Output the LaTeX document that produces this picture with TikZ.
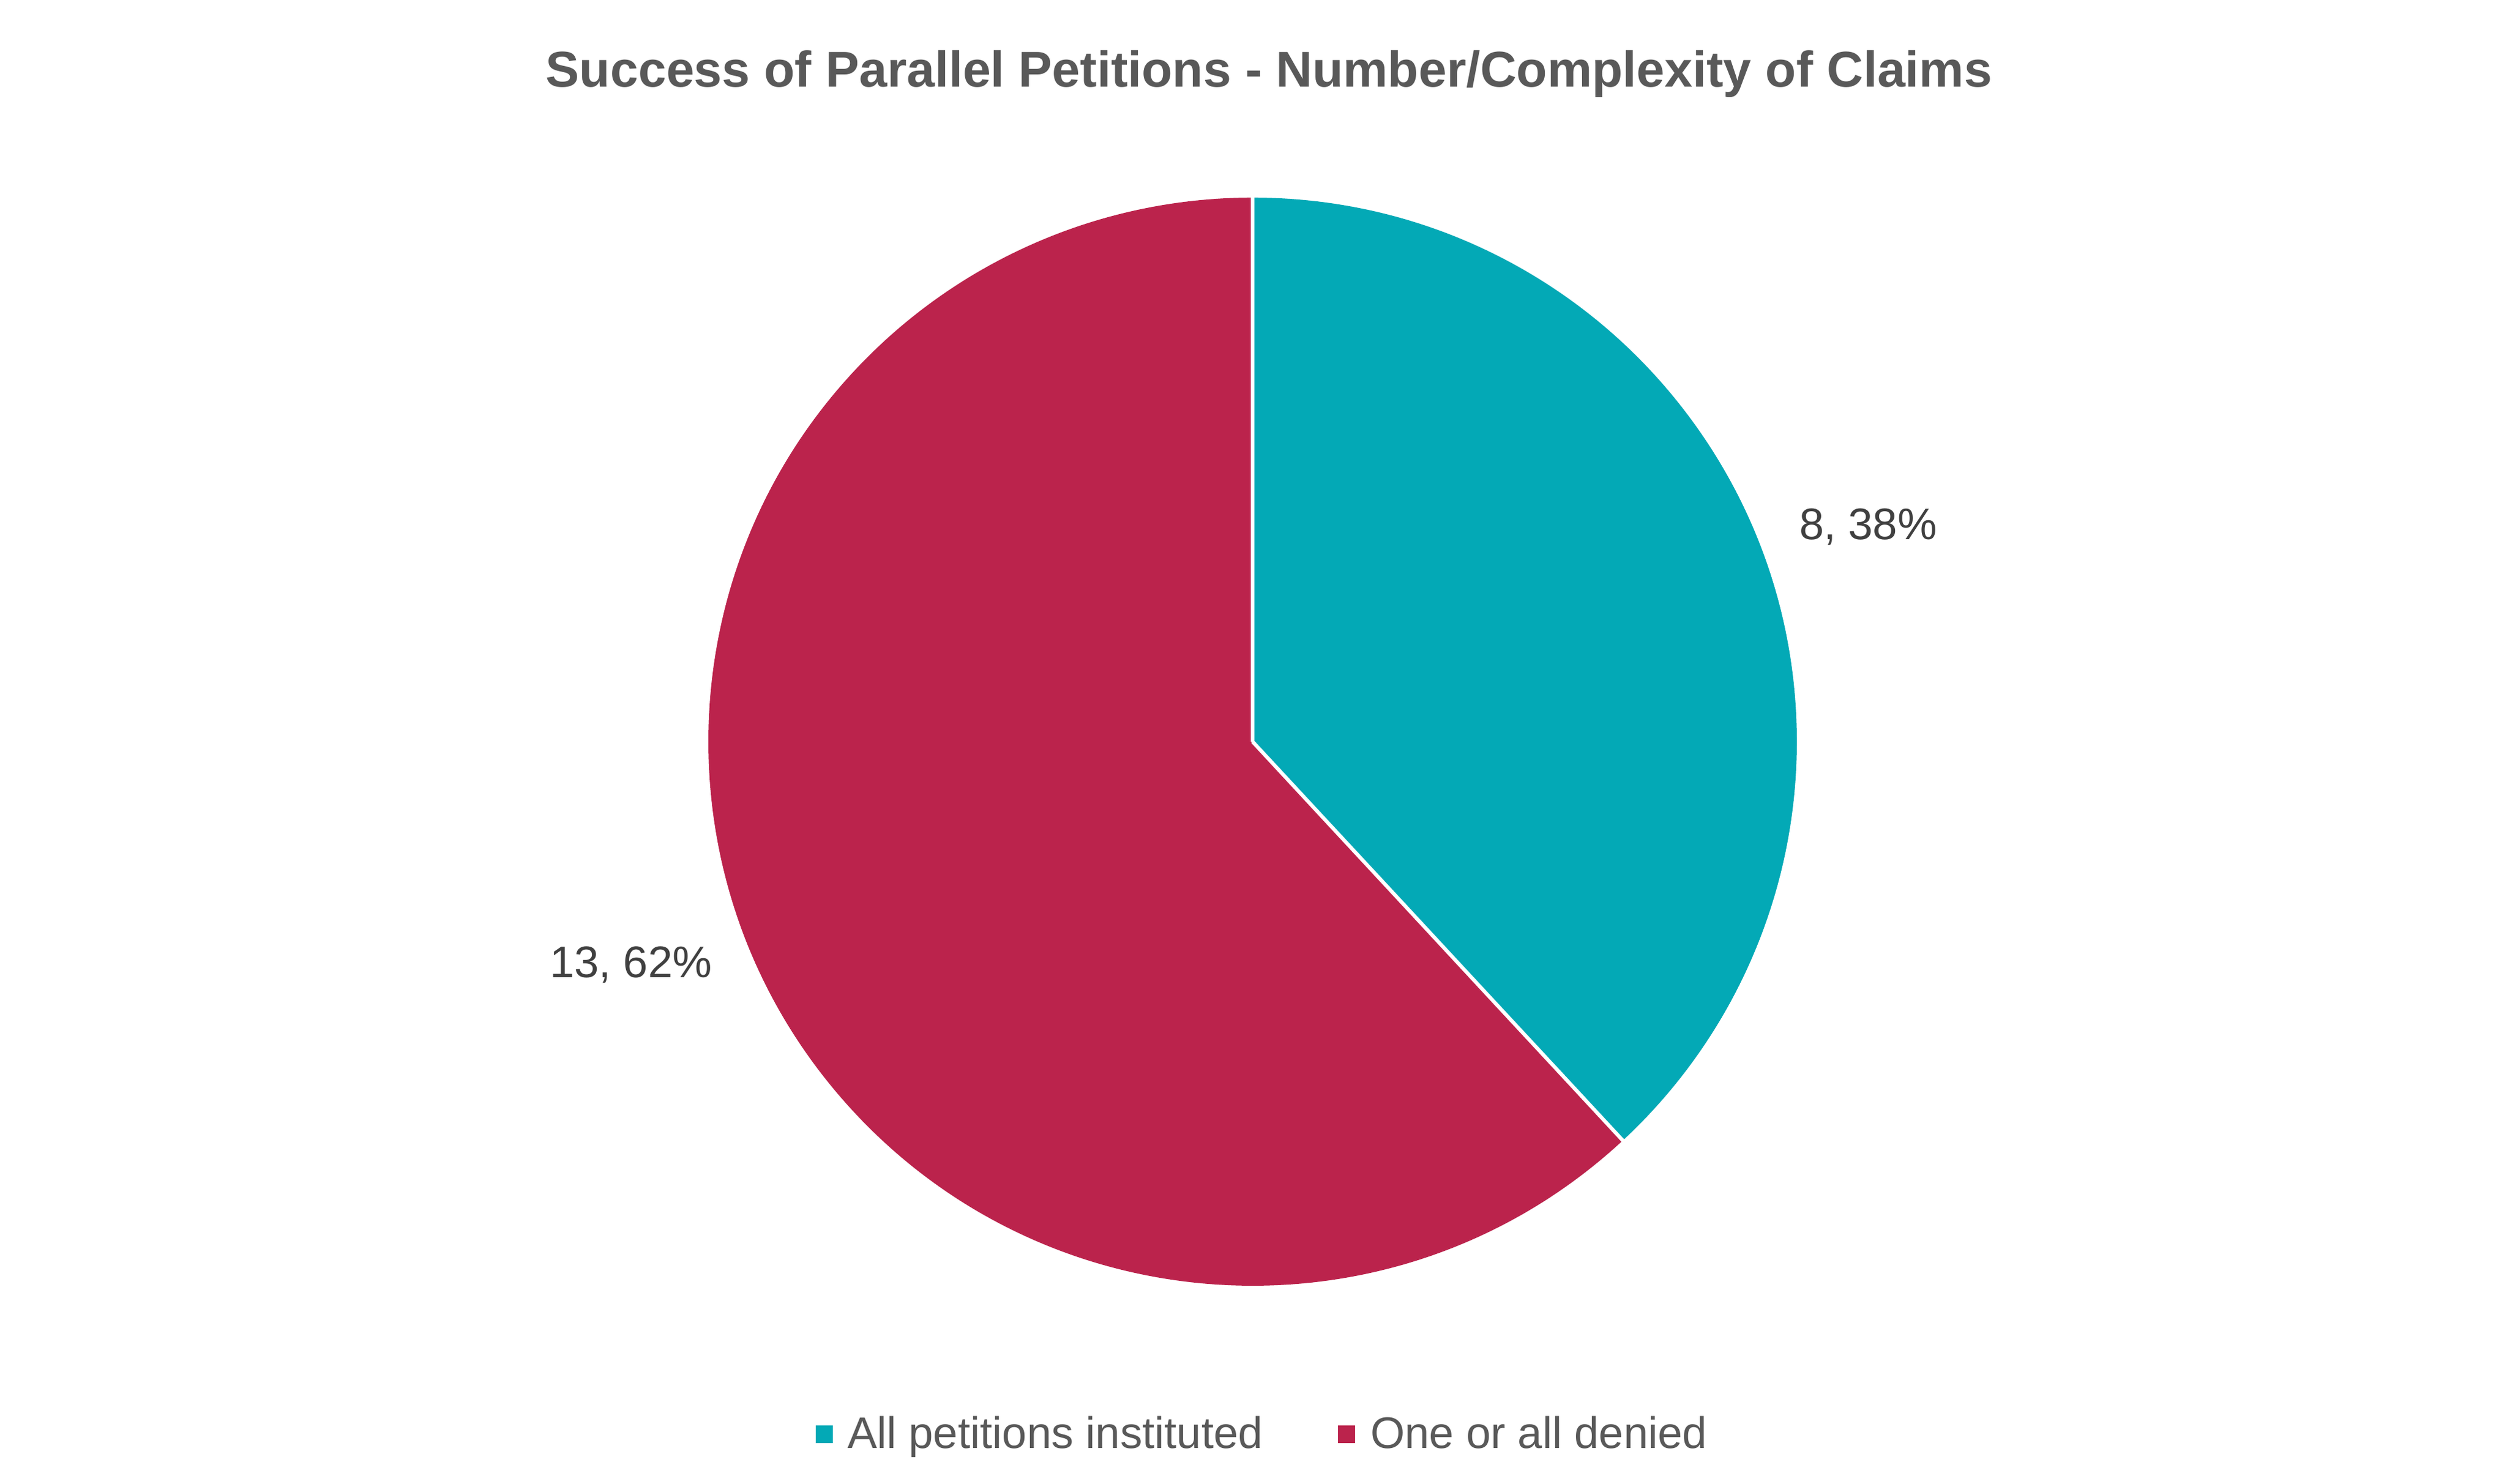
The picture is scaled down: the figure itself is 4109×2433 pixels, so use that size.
\documentclass[tikz,border=0pt]{standalone}
\usepackage{fontspec}
\setmainfont{Liberation Sans}
\definecolor{tealc}{RGB}{3,169,182}
\definecolor{redc}{RGB}{187,35,76}
\definecolor{titlegray}{RGB}{89,89,89}
\definecolor{labelgray}{RGB}{64,64,64}
\tikzset{
  slice/.style={draw=white, line width=1.2pt, line join=round},
  titletext/.style={inner sep=0pt, anchor=base, text=titlegray, font=\fontsize{16.5pt}{19pt}\selectfont\bfseries},
  datalabel/.style={inner sep=0pt, anchor=base west, text=labelgray, font=\fontsize{14.5pt}{17pt}\selectfont},
  legendtext/.style={inner sep=0pt, anchor=base west, text=titlegray, font=\fontsize{14.5pt}{17pt}\selectfont},
  legsq/.style={inner sep=0pt, minimum width=5.6pt, minimum height=5.8pt, draw=none}
}
\begin{document}
\begin{tikzpicture}[x=0.2pt,y=0.2pt]
\useasboundingbox[fill=white] (0,0) rectangle (4109,2433);
% pie
\coordinate (c) at (2053,1217);
\fill[redc] (c) -- ++(-47.14:892) arc[start angle=-47.14, end angle=-270, radius=892] -- cycle;
\fill[tealc] (c) -- ++(90:892) arc[start angle=90, end angle=-47.14, radius=892] -- cycle;
\draw[slice] (c) -- ++(90:895);
\draw[slice] (c) -- ++(-47.14:895);
% title
\node[titletext] (title) at (2080,2290) {Success of Parallel Petitions - Number/Complexity of Claims};
% data labels
\node[datalabel] (lab1) at (2948,1548) {8, 38\%};
\node[datalabel] (lab2) at (900,830) {13, 62\%};
% legend
\node[legsq, fill=tealc] (sq1) at (1351,81) {};
\node[legendtext] (leg1) at (1388,58) {All petitions instituted};
\node[legsq, fill=redc] (sq2) at (2207,81) {};
\node[legendtext] (leg2) at (2245,58) {One or all denied};
\end{tikzpicture}
\end{document}
